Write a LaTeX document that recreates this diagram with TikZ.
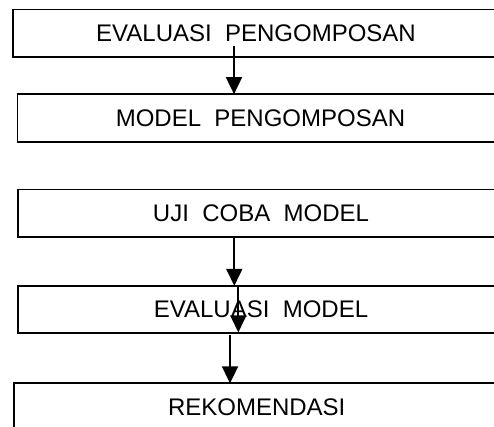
\documentclass[tikz,border=0pt]{standalone}
\usepackage{fontspec}
\setmainfont{Liberation Sans}
\usetikzlibrary{arrows.meta}
\begin{document}
\begin{tikzpicture}[x=1pt,y=1pt,
  stage/.style={draw=black,line width=1.8pt,minimum width=486pt,minimum height=47.5pt,
    inner sep=0pt,outer sep=0pt,font=\fontsize{24}{27}\selectfont},
  arr/.style={draw=black,line width=1.8pt,-{Triangle[width=16pt,length=17pt]}}]
\useasboundingbox (0,0) rectangle (494,-426);
\clip (0,0) rectangle (494,-426);
\node[stage] (b1) at (256,-33.2) {EVALUASI\ \ PENGOMPOSAN};
\node[stage] (b2) at (260.5,-117.9) {MODEL\ \ PENGOMPOSAN};
\node[stage] (b3) at (261,-213.3) {UJI\ \ COBA\ \ MODEL};
\node[stage] (b4) at (261,-309.6) {EVALUASI\ \ MODEL};
\node[stage] (b5) at (256.7,-407.1) {REKOMENDASI};
\draw[arr] ([shift={(-22pt,11pt)}]b1.south) -- ([xshift=-26.5pt]b2.north);
\draw[arr] ([xshift=-26.7pt]b3.south) -- ([xshift=-26.7pt]b4.north);
\draw[arr] ([xshift=-22.7pt]b4.north) -- ([xshift=-22.7pt,yshift=1pt]b4.south);
\draw[arr] ([shift={(-31pt,-2pt)}]b4.south) -- ([xshift=-26.7pt]b5.north);
\end{tikzpicture}
\end{document}
